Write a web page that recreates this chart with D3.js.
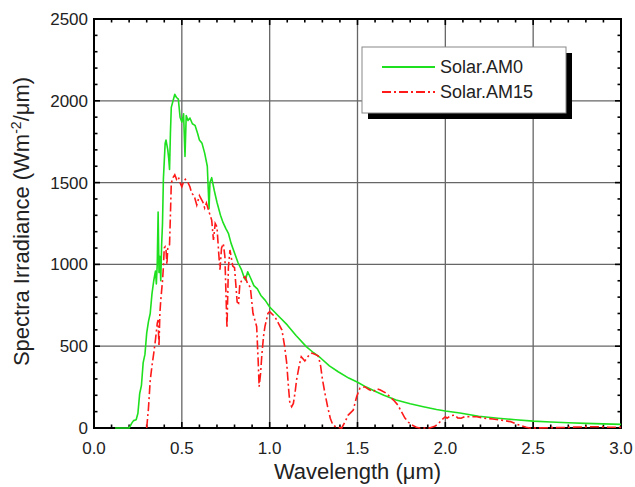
<!DOCTYPE html>
<html>
<head>
<meta charset="utf-8">
<script src="https://cdn.jsdelivr.net/npm/d3@7"></script>
<style>
  body { margin: 0; background: #fff; }
  #plot { width: 635px; height: 487px; }
  text { font-family: "Liberation Sans", Arial, sans-serif; fill: #222; }
</style>
</head>
<body>
<div id="plot"></div>
<script>
// wavelength (um) / irradiance (W m-2 um-1)
const am0 = [
  [0.12,0],[0.20,0],[0.215,30],[0.225,45],[0.24,50],[0.25,90],[0.26,210],[0.27,260],[0.28,400],[0.29,450],
  [0.30,580],[0.31,650],[0.32,700],[0.33,820],[0.34,900],[0.35,960],[0.355,880],[0.36,1000],[0.365,1320],
  [0.37,950],[0.375,1050],[0.38,900],[0.385,1120],[0.39,1250],[0.395,1520],[0.405,1740],[0.41,1760],
  [0.42,1700],[0.425,1650],[0.43,1580],[0.435,1800],[0.44,1960],[0.45,2000],[0.46,2040],[0.47,2020],
  [0.48,2010],[0.49,1900],[0.50,1870],[0.51,1920],[0.518,1660],[0.525,1910],[0.535,1880],[0.546,1895],
  [0.56,1860],[0.575,1850],[0.59,1800],[0.60,1760],[0.615,1740],[0.63,1680],[0.645,1600],[0.655,1340],
  [0.66,1500],[0.67,1530],[0.685,1450],[0.70,1380],[0.72,1300],[0.735,1255],[0.75,1220],[0.765,1190],
  [0.78,1130],[0.80,1070],[0.82,1010],[0.84,966],[0.855,920],[0.862,905],[0.875,955],[0.89,920],
  [0.91,870],[0.93,850],[0.95,810],[0.975,780],[1.0,740],[1.05,685],[1.10,630],[1.15,565],[1.21,496],
  [1.25,460],[1.29,428],[1.34,380],[1.39,344],[1.45,305],[1.495,283],[1.55,250],[1.6,225],[1.65,200],
  [1.72,171],[1.8,148],[1.875,130],[1.95,113],[2.0,104],[2.083,92],[2.19,72],[2.3,60],[2.4,50],
  [2.5,42],[2.6,37],[2.7,32],[2.8,28],[2.9,25],[3.0,22]
];

const am15 = [
  [0.30,0],[0.31,120],[0.32,290],[0.33,380],[0.34,456],[0.35,540],[0.36,640],[0.365,660],[0.37,500],
  [0.375,700],[0.38,780],[0.39,900],[0.395,985],[0.40,1100],[0.405,1108],[0.41,1090],[0.415,1000],
  [0.42,1100],[0.43,1120],[0.435,1300],[0.44,1497],[0.45,1530],[0.46,1548],[0.47,1520],[0.48,1535],
  [0.49,1500],[0.50,1475],[0.51,1505],[0.52,1520],[0.535,1500],[0.546,1475],[0.556,1435],[0.57,1420],
  [0.585,1363],[0.60,1420],[0.61,1400],[0.62,1380],[0.63,1345],[0.64,1375],[0.655,1320],[0.67,1271],
  [0.68,1149],[0.69,1250],[0.70,1230],[0.71,1068],[0.717,967],[0.726,1100],[0.736,1128],[0.745,1050],
  [0.757,611],[0.765,980],[0.774,1088],[0.79,990],[0.80,980],[0.815,770],[0.823,763],[0.83,880],
  [0.845,910],[0.86,925],[0.875,880],[0.89,860],[0.905,701],[0.926,620],[0.935,400],[0.94,253],
  [0.948,330],[0.955,440],[0.965,560],[0.973,620],[0.99,700],[1.0,711],[1.03,680],[1.05,640],[1.07,599],
  [1.085,500],[1.097,397],[1.107,250],[1.115,151],[1.125,130],[1.135,150],[1.145,220],[1.153,293],
  [1.168,380],[1.18,436],[1.20,410],[1.22,440],[1.24,458],[1.26,450],[1.277,440],[1.29,380],[1.30,300],
  [1.315,210],[1.33,130],[1.345,60],[1.36,18],[1.38,5],[1.41,0],[1.43,40],[1.447,79],[1.476,110],
  [1.495,191],[1.514,244],[1.542,252],[1.565,235],[1.59,222],[1.61,240],[1.63,232],[1.66,215],
  [1.685,191],[1.71,165],[1.73,140],[1.75,100],[1.77,61],[1.79,35],[1.81,18],[1.835,5],[1.855,0],
  [1.91,0],[1.94,10],[1.96,25],[1.98,50],[2.0,69],[2.01,60],[2.03,75],[2.055,79],[2.07,62],[2.09,60],
  [2.11,70],[2.14,69],[2.18,69],[2.22,60],[2.27,55],[2.32,48],[2.37,39],[2.42,18],[2.46,5],[2.48,0],
  [2.6,2],[2.67,3],[2.75,6],[2.86,8],[2.93,5],[3.0,4]
];

const seriesNames = ["Solar.AM0", "Solar.AM15"];
const xTicks = [0.0, 0.5, 1.0, 1.5, 2.0, 2.5, 3.0];
const yTicks = [0, 500, 1000, 1500, 2000, 2500];

const margin = {top: 19, right: 14, bottom: 59, left: 94},
    width = 635 - margin.left - margin.right,
    height = 487 - margin.top - margin.bottom;

const svg = d3.select("#plot")
    .append("svg")
    .attr("width", 635)
    .attr("height", 487)
  .append("g")
    .attr("transform", "translate(" + margin.left + "," + margin.top + ")");

let x = d3.scaleLinear().domain([0, 3]).range([0, width]);
let y = d3.scaleLinear().domain([0, 2500]).range([height, 0]);

// grid
svg.append("g").selectAll("line")
    .data(xTicks.slice(1, -1))
    .enter().append("line")
    .attr("x1", d => x(d)).attr("x2", d => x(d))
    .attr("y1", 0).attr("y2", height)
    .attr("stroke", "#666").attr("stroke-width", 1.3);
svg.append("g").selectAll("line")
    .data(yTicks.slice(1, -1))
    .enter().append("line")
    .attr("y1", d => y(d)).attr("y2", d => y(d))
    .attr("x1", 0).attr("x2", width)
    .attr("stroke", "#666").attr("stroke-width", 1.3);

// inward ticks on all four sides
const xMinor = d3.range(0, 31).map(i => i / 10);
const yMinor = d3.range(0, 26).map(i => i * 100);
function tickLen(v, step) { return Math.abs(v / step - Math.round(v / step)) < 1e-6 ? 6 : 3.5; }

const ticks = svg.append("g").attr("stroke", "#000").attr("stroke-width", 1.6);
xMinor.forEach(v => {
    let l = tickLen(v, 0.5);
    ticks.append("line").attr("x1", x(v)).attr("x2", x(v)).attr("y1", height).attr("y2", height - l);
    ticks.append("line").attr("x1", x(v)).attr("x2", x(v)).attr("y1", 0).attr("y2", l);
});
yMinor.forEach(v => {
    let l = tickLen(v, 500);
    ticks.append("line").attr("y1", y(v)).attr("y2", y(v)).attr("x1", 0).attr("x2", l);
    ticks.append("line").attr("y1", y(v)).attr("y2", y(v)).attr("x1", width).attr("x2", width - l);
});

// frame
svg.append("rect")
    .attr("width", width).attr("height", height)
    .attr("fill", "none").attr("stroke", "#000").attr("stroke-width", 2);

// curves
let line = d3.line()
    .x(d => x(d[0]))
    .y(d => y(d[1]));

svg.append("path")
    .datum(am0)
    .attr("fill", "none")
    .attr("stroke", "#1ee01e")
    .attr("stroke-width", 1.6)
    .attr("stroke-linejoin", "round")
    .attr("d", line);

svg.append("path")
    .datum(am15)
    .attr("fill", "none")
    .attr("stroke", "#ff1a1a")
    .attr("stroke-width", 1.6)
    .attr("stroke-dasharray", "9,3,2,3")
    .attr("d", line);

// tick labels
svg.append("g").selectAll("text")
    .data(xTicks)
    .enter().append("text")
    .attr("x", d => x(d))
    .attr("y", height + 26)
    .attr("text-anchor", "middle")
    .style("font-size", "17px")
    .text(d => d.toFixed(1));

svg.append("g").selectAll("text")
    .data(yTicks)
    .enter().append("text")
    .attr("x", -6)
    .attr("y", d => y(d))
    .attr("dy", "0.35em")
    .attr("text-anchor", "end")
    .style("font-size", "17px")
    .text(d => d);

// axis titles
svg.append("text")
    .attr("x", width / 2)
    .attr("y", height + 51)
    .attr("text-anchor", "middle")
    .style("font-size", "22px")
    .text("Wavelength (\u03bcm)");

let yt = svg.append("text")
    .attr("transform", "translate(" + (-65) + "," + (height / 2 - 2) + ") rotate(-90)")
    .attr("text-anchor", "middle")
    .style("font-size", "22px");
yt.append("tspan").text("Spectra Irradiance (Wm");
yt.append("tspan").attr("dy", -8).style("font-size", "14px").text("-2");
yt.append("tspan").attr("dy", 8).text("/\u03bcm)");

// legend
const lg = svg.append("g").attr("transform", "translate(" + (362 - margin.left) + "," + (47 - margin.top) + ")");
lg.append("rect").attr("x", 6).attr("y", 6).attr("width", 204).attr("height", 66).attr("fill", "#000");
lg.append("rect").attr("width", 204).attr("height", 66).attr("fill", "#fff")
    .attr("stroke", "#888").attr("stroke-width", 1);
const legColors = ["#1ee01e", "#ff1a1a"];
seriesNames.forEach((s, i) => {
    lg.append("line")
        .attr("x1", 20).attr("x2", 73)
        .attr("y1", 20 + i * 25).attr("y2", 20 + i * 25)
        .attr("stroke", legColors[i]).attr("stroke-width", 1.8)
        .attr("stroke-dasharray", i === 1 ? "9,3,2,3" : null);
    lg.append("text")
        .attr("x", 78).attr("y", 20 + i * 25)
        .attr("dy", "0.35em")
        .style("font-size", "18px")
        .text(s);
});
</script>
</body>
</html>
